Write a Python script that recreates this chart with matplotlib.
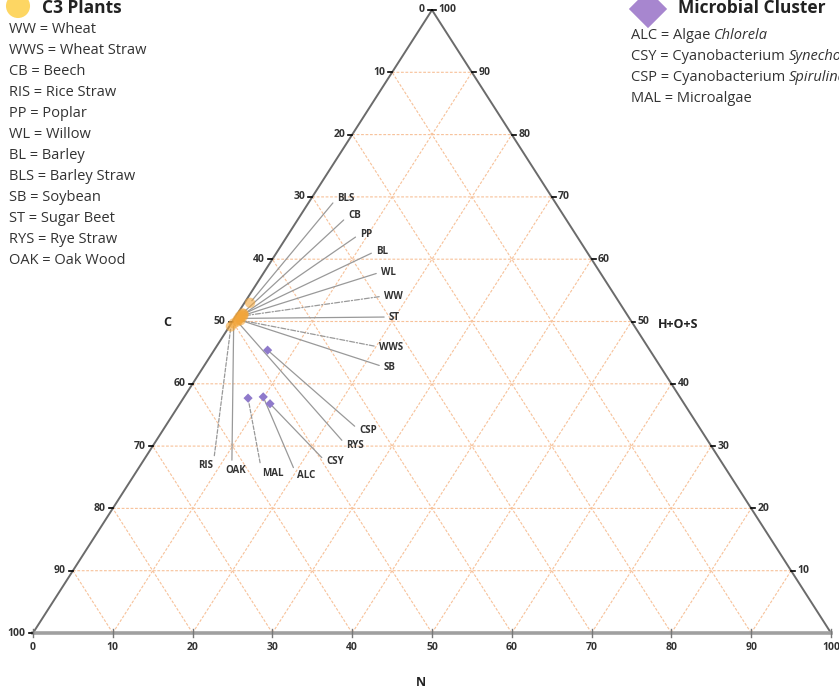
import matplotlib

matplotlib.use("Agg")
import matplotlib.pyplot as plt

# Elemental composition (wt%): N and H+O+S; C is the remainder
c3_codes = ["WW", "WWS", "CB", "RIS", "PP", "WL", "BL", "BLS", "SB", "ST", "RYS", "OAK"]
c3_names = ["Wheat", "Wheat Straw", "Beech", "Rice Straw", "Poplar", "Willow",
            "Barley", "Barley Straw", "Soybean", "Sugar Beet", "Rye Straw", "Oak Wood"]
c3_n = [0.9, 0.5, 0.6, 0.2, 0.7, 0.5, 0.8, 0.7, 0.9, 0.7, 0.6, 0.3]
c3_hos = [50.9, 50.3, 51.3, 49.2, 51.0, 50.8, 51.2, 53.0, 50.2, 50.5, 50.0, 49.7]

mic_codes = ["ALC", "CSY", "CSP", "MAL"]
mic_names = ["Algae", "Cyanobacterium", "Cyanobacterium", "Microalgae"]
mic_species = ["Chlorela", "Synechocystis", "Spirulina", ""]
mic_n = [9.9, 11.3, 6.7, 8.1]
mic_hos = [37.9, 36.8, 45.4, 37.7]

ticks = list(range(0, 101, 10))

# pixel layout of the canvas (839x691)
PX_LEFT, PX_BASE, PX_PER_X, PX_PER_H = 33, 633, 7.98, 6.23
W_PX, H_PX = 839, 691

# label placement (pixel anchor, ha, relpos of leader, linestyle)
LABEL_POS = {
    "BLS": (337, 198, "left", (0, 0.5), "-"),
    "CB": (348, 216, "left", (0, 0.5), "-"),
    "PP": (360, 234, "left", (0, 0.5), "-"),
    "BL": (376, 251, "left", (0, 0.5), "-"),
    "WL": (381, 272, "left", (0, 0.5), "-"),
    "WW": (384, 296, "left", (0, 0.5), (0, (4, 1.5, 1, 1.5))),
    "ST": (389, 317, "left", (0, 0.5), "-"),
    "WWS": (379, 347, "left", (0, 0.5), (0, (4, 1.5, 1, 1.5))),
    "SB": (384, 367, "left", (0, 0.5), "-"),
    "CSP": (359, 430, "left", (0, 0.5), "-"),
    "RYS": (346, 445, "left", (0, 0.5), "-"),
    "CSY": (326, 462, "left", (0, 0.5), "-"),
    "ALC": (297, 476, "left", (0, 0.5), "-"),
    "MAL": (262, 473, "left", (0, 0.5), (0, (3, 1.5))),
    "OAK": (236, 465, "center", (0.3, 1), "-"),
    "RIS": (213, 466, "right", (1, 0.5), (0, (3, 1.5))),
}

FONT = "Open Sans"
TXT = "#333333"
GRID = "#F7C199"
EDGE = "#6b6b6b"


def tern(n, h):
    """Ternary (N, H+O+S) -> cartesian."""
    return n + h / 2.0, h


def px(x, y):
    """Pixel position -> data coordinates."""
    return (x - PX_LEFT) / PX_PER_X, (PX_BASE - y) / PX_PER_H


fig = plt.figure(figsize=(W_PX / 100, H_PX / 100), dpi=100)
ax = fig.add_axes([0, 0, 1, 1])
x0, y1 = px(0, 0)
x1, y0 = px(W_PX, H_PX)
ax.set_xlim(x0, x1)
ax.set_ylim(y0, y1)
ax.axis("off")

# grid
grid_kw = dict(color=GRID, lw=0.8, ls=(0, (2.5, 1.5)), zorder=1, snap=False)
for v in range(10, 100, 10):
    a, b = tern(0, v), tern(100 - v, v)          # constant H+O+S
    ax.plot([a[0], b[0]], [a[1], b[1]], **grid_kw)
    a, b = tern(v, 0), tern(v, 100 - v)          # constant N
    ax.plot([a[0], b[0]], [a[1], b[1]], **grid_kw)
    a, b = tern(100 - v, 0), tern(0, 100 - v)    # constant C
    ax.plot([a[0], b[0]], [a[1], b[1]], **grid_kw)

# triangle edges
ax.plot([0, 50, 100], [0, 100, 0], color=EDGE, lw=1.4, zorder=2)
ax.plot([0, 100], [0, 0], color="#a0a0a0", lw=2.6, zorder=2)

tick_kw = dict(fontsize=7.5, fontweight="bold", color=TXT, family=FONT)
for t in ticks:
    # left axis (C)
    lx, ly = tern(0, t)
    ax.plot([lx - 0.5, lx], [ly, ly], color="black", lw=1.2, zorder=3)
    ax.text(lx - 0.9, ly, str(100 - t), ha="right", va="center", **tick_kw)
    # right axis (H+O+S)
    if t > 0:
        rx, ry = tern(100 - t, t)
        ax.plot([rx, rx + 0.5], [ry, ry], color="black", lw=1.2, zorder=3)
        ax.text(rx + 0.8, ry, str(t), ha="left", va="center", **tick_kw)
    # bottom axis (N)
    ax.plot([t, t], [-0.6, 0.6], color="#777777", lw=1.0, zorder=3)
    ax.text(t, -2.4, str(t), ha="center", va="center", **tick_kw)

title_kw = dict(fontsize=9, fontweight="bold", color="#222222", family=FONT,
                ha="center", va="center")
ax.text(*px(167, 322), "C", **title_kw)
ax.text(*px(678, 324), "H+O+S", **title_kw)
ax.text(*px(421, 682), "N", **title_kw)

# data points
c3_xy = [tern(n, h) for n, h in zip(c3_n, c3_hos)]
mic_xy = [tern(n, h) for n, h in zip(mic_n, mic_hos)]
ax.scatter([p[0] for p in c3_xy], [p[1] for p in c3_xy], s=55, color="#F2A53A",
           alpha=0.6, edgecolors="none", zorder=5)
ax.scatter([p[0] for p in mic_xy], [p[1] for p in mic_xy], s=22, marker="D",
           color="#8F7ACB", edgecolors="none", zorder=5)

# data labels with leader lines
for code, (x, y) in list(zip(c3_codes, c3_xy)) + list(zip(mic_codes, mic_xy)):
    lx, ly, ha, rel, ls = LABEL_POS[code]
    va = "top" if code == "OAK" else "center"
    ax.annotate(code, xy=(x, y), xytext=px(lx, ly), ha=ha, va=va,
                fontsize=7, fontweight="bold", color=TXT, family=FONT,
                arrowprops=dict(arrowstyle="-", color="#999999", lw=0.9,
                                linestyle=ls, relpos=rel, shrinkA=1.5, shrinkB=2),
                zorder=4)

# legends
ax.scatter(*px(18, 6), s=300, color="#FDD663", edgecolors="none", clip_on=False, zorder=6)
ax.text(*px(42, 8), "C3 Plants", fontsize=12.5, fontweight="bold", color="#222222",
        family=FONT, ha="left", va="center")
for i, (code, name) in enumerate(zip(c3_codes, c3_names)):
    ax.text(*px(9, 29 + 21 * i), f"{code} = {name}", fontsize=10.5, color=TXT,
            family=FONT, ha="left", va="center")

ax.scatter(*px(648, 9), s=380, marker="D", color="#A786CF", edgecolors="none",
           clip_on=False, zorder=6)
ax.text(*px(678, 8), "Microbial Cluster", fontsize=12.5, fontweight="bold",
        color="#222222", family=FONT, ha="left", va="center")
renderer = fig.canvas.get_renderer()
for i, (code, name, sp) in enumerate(zip(mic_codes, mic_names, mic_species)):
    t = ax.text(*px(631, 35 + 21 * i), f"{code} = {name} ", fontsize=10.5, color=TXT,
                family=FONT, ha="left", va="center")
    if sp:
        bb = t.get_window_extent(renderer)
        xd = ax.transData.inverted().transform((bb.x1, 0))[0]
        ax.text(xd, px(0, 35 + 21 * i)[1], sp, fontsize=10.5, color=TXT,
                family=FONT, style="italic", ha="left", va="center")

fig.savefig("out.png", dpi=100)
plt.close(fig)
